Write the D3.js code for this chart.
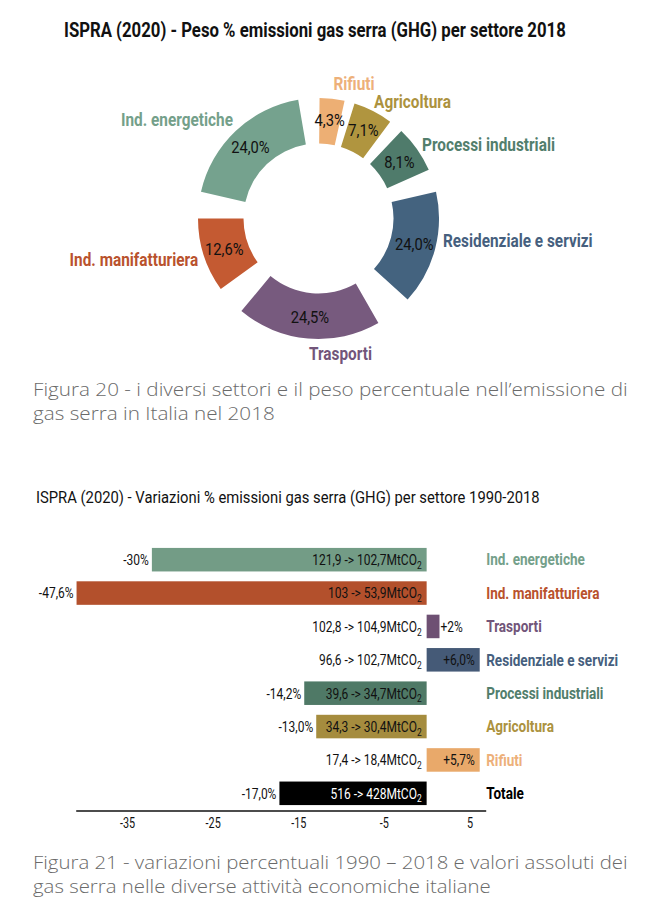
<!DOCTYPE html>
<html><head><meta charset="utf-8">
<script src="https://cdn.jsdelivr.net/npm/d3@7"></script>
<style>
html,body{margin:0;padding:0;background:#fff;}
svg{display:block;}
</style></head>
<body><svg id="c" width="658" height="913"></svg>
<script>
// ---------- DATA ----------
// Donut: shares 2018 (clockwise from top)
const pieSectors = ["Rifiuti","Agricoltura","Processi industriali","Residenziale e servizi","Trasporti","Ind. manifatturiera","Ind. energetiche"];
const pieShareLabels = ["4,3%","7,1%","8,1%","24,0%","24,5%","12,6%","24,0%"];
// angular extent of each slice as drawn in the picture (degrees)
const pieSliceDeg = [12.0, 19.1, 22.8, 55.1, 69.6, 35.8, 67.5];
// angular gap before each slice, plus the closing gap (degrees)
const pieGapDeg = [0.5, 4.9, 6.9, 11.0, 17.9, 14.4, 12.8, 9.7];

// Bars: % change 1990-2018
const barSectors = ["Ind. energetiche","Ind. manifatturiera","Trasporti","Residenziale e servizi","Processi industriali","Agricoltura","Rifiuti","Totale"];
const barChange = [-32.1, -40.9, 1.5, 6.2, -14.3, -12.9, 6.2, -17.2];
const changeLabels = ["-30%","-47,6%","+2%","+6,0%","-14,2%","-13,0%","+5,7%","-17,0%"];
const valueLabels = ["121,9 -> 102,7","103 -> 53,9","102,8 -> 104,9","96,6 -> 102,7","39,6 -> 34,7","34,3 -> 30,4","17,4 -> 18,4","516 -> 428"];
const axisTicks = [-35, -25, -15, -5, 5];
const xDomain = [-41, 6.9];

// ---------- STYLE ----------
const pieColors = {"Rifiuti":"#EDAF74","Agricoltura":"#B0953F","Processi industriali":"#4F7B6B","Residenziale e servizi":"#44637F","Trasporti":"#775A7E","Ind. manifatturiera":"#C45A32","Ind. energetiche":"#75A28E"};
const barColors = {"Ind. energetiche":"#739C86","Ind. manifatturiera":"#B3502C","Trasporti":"#6E5073","Residenziale e servizi":"#455A77","Processi industriali":"#4F7966","Agricoltura":"#A58C3E","Rifiuti":"#E9A96A","Totale":"#000000"};
const labelColors = {"Ind. energetiche":"#74A08A","Ind. manifatturiera":"#B9522D","Trasporti":"#72557A","Residenziale e servizi":"#465F7E","Processi industriali":"#527E6C","Agricoltura":"#AC923E","Rifiuti":"#EDB07A","Totale":"#000000"};
const COND = "Roboto,'Noto Sans','DejaVu Sans',sans-serif";
const THIN = "'Open Sans','Lato','Noto Sans',sans-serif";

const svg = d3.select('#c');

// condensed-looking text: a normal face squeezed horizontally
function ctext(parent, x, y, str, o){
  const t = parent.append('text')
    .attr('text-anchor', o.anchor || 'start')
    .attr('font-family', o.family || COND)
    .attr('font-size', o.size)
    .attr('font-weight', o.weight || 400)
    .attr('fill', o.fill || '#111');
  if (o.dy) t.attr('dy', o.dy);
  if (o.sub) { t.append('tspan').text(str); t.append('tspan').attr('font-size','0.7em').attr('dy','0.35em').text(o.sub); }
  else t.text(str);
  let sx = o.sx || 1;
  if (o.width) sx = o.width / t.node().getComputedTextLength();
  t.attr('transform', `translate(${x},${y}) scale(${sx},1)`);
  return t;
}
function measureScale(str, size, weight, width, sub, family){
  const t = svg.append('text').attr('font-family', family || COND).attr('font-size', size).attr('font-weight', weight || 400);
  t.append('tspan').text(str);
  if (sub) t.append('tspan').attr('font-size','0.7em').text(sub);
  const s = width / t.node().getComputedTextLength();
  t.remove();
  return s;
}

// ---------- TITLE 1 ----------
ctext(svg, 64, 37, 'ISPRA (2020) - Peso % emissioni gas serra (GHG) per settore 2018',
  {size:20, weight:700, width:502, fill:'#111'});

// ---------- DONUT ----------
const cx = 318.5, cy = 218.5, R = 120.5, r = 75;
const pieItems = [];
pieGapDeg.forEach((g,i)=>{
  pieItems.push({gap:true, v:g});
  if(i < pieSectors.length) pieItems.push({gap:false, v:pieSliceDeg[i], i:i});
});
const arcs = d3.pie().sort(null).value(d=>d.v)(pieItems).filter(a=>!a.data.gap);
const arc = d3.arc().innerRadius(r).outerRadius(R);
const pg = svg.append('g').attr('transform',`translate(${cx},${cy})`);
pg.selectAll('path').data(arcs).join('path')
  .attr('d',arc).attr('fill',d=>pieColors[pieSectors[d.data.i]]);

const midArc = d3.arc().innerRadius(99).outerRadius(99);
const pctSx = measureScale('24,0%', 17, 400, 38.5);
arcs.forEach(d=>{
  const [px,py] = midArc.centroid(d);
  ctext(pg, px, py, pieShareLabels[d.data.i], {size:17, anchor:'middle', dy:'0.36em', sx:pctSx, fill:'#111'});
});

// outer labels placement (angle deg, radius, anchor)
const outerPlace = [
  {a:14.7, rr:140, anchor:'middle'},
  {a:25.3, rr:130, anchor:'start'},
  {a:54.3, rr:127.5, anchor:'start'},
  {a:99.8, rr:126.3, anchor:'start'},
  {a:170.7, rr:136.3, anchor:'middle'},
  {a:251.4, rr:127, anchor:'end'},
  {a:319.3, rr:131.2, anchor:'end'}
];
const outSx = measureScale('Processi industriali', 18.5, 700, 133);
arcs.forEach(d=>{
  const p = outerPlace[d.data.i], s = pieSectors[d.data.i];
  ctext(pg, p.rr*Math.sin(p.a*Math.PI/180), -p.rr*Math.cos(p.a*Math.PI/180), s,
    {size:18.5, weight:700, anchor:p.anchor, dy:'0.36em', sx:outSx, fill:labelColors[s]});
});

// ---------- CAPTIONS ----------
function caption(lines, y0){
  const sx = measureScale(lines[0], 17.5, 300, 595, null, THIN);
  lines.forEach((l,k)=>ctext(svg, 33, y0 + 24*k, l, {size:17.5, weight:300, sx:sx, family:THIN, fill:'#6a6a6a'}));
}
caption(['Figura 20 - i diversi settori e il peso percentuale nell\u2019emissione di','gas serra in Italia nel 2018'], 396);

// ---------- TITLE 2 ----------
ctext(svg, 36, 503, 'ISPRA (2020) - Variazioni % emissioni gas serra (GHG) per settore 1990-2018',
  {size:16.5, weight:400, width:504, fill:'#111'});

// ---------- BARS ----------
const x = d3.scaleLinear().domain(xDomain).range([75.7, 485.7]);
const y = d3.scaleBand().domain(barSectors).range([543, 810]).paddingInner(0.295).paddingOuter(0.1475);
const bg = svg.append('g');
bg.selectAll('rect').data(barSectors).join('rect')
  .attr('x',(s,i)=>x(Math.min(0,barChange[i])))
  .attr('width',(s,i)=>Math.abs(x(barChange[i])-x(0)))
  .attr('y',s=>y(s)).attr('height',y.bandwidth())
  .attr('fill',s=>barColors[s]);

const ax = svg.append('g').attr('transform','translate(0,810.5)')
  .call(d3.axisBottom(x).tickValues(axisTicks).tickSize(0).tickSizeOuter(0).tickPadding(7).tickFormat(d=>String(d)));
ax.select('.domain').attr('stroke','#111').attr('stroke-width',1.4);
ax.selectAll('text').attr('font-family',COND).attr('font-size',15).attr('fill','#111')
  .attr('transform','scale(0.72,1)');

const barFs = 15;
const barSx = measureScale(valueLabels[0]+'MtCO', barFs, 400, 109.5, '2');
barSectors.forEach((s,i)=>{
  const yc = y(s) + y.bandwidth()/2;
  const v = barChange[i];
  ctext(svg, x(0)-5, yc, valueLabels[i]+'MtCO', {size:barFs, anchor:'end', dy:'0.36em', sx:barSx, sub:'2',
    fill: s==='Totale' ? '#fff' : '#111'});
  let px, anchor;
  if (v < 0) { px = x(v)-3; anchor = 'end'; }
  else if (x(v)-x(0) > 40) { px = x(v)-5; anchor = 'end'; }
  else { px = x(v)+1; anchor = 'start'; }
  ctext(svg, px, yc, changeLabels[i], {size:barFs, anchor:anchor, dy:'0.36em', sx:barSx, fill:'#111'});
});

const catSx = measureScale('Residenziale e servizi', 16, 700, 132);
barSectors.forEach(s=>{
  ctext(svg, x.range()[1]+0.5, y(s)+y.bandwidth()/2, s, {size:16, weight:700, dy:'0.36em', sx:catSx, fill:labelColors[s]});
});

caption(['Figura 21 - variazioni percentuali 1990 \u2013 2018 e valori assoluti dei','gas serra nelle diverse attivit\u00e0 economiche italiane'], 869);
</script>
</body></html>
